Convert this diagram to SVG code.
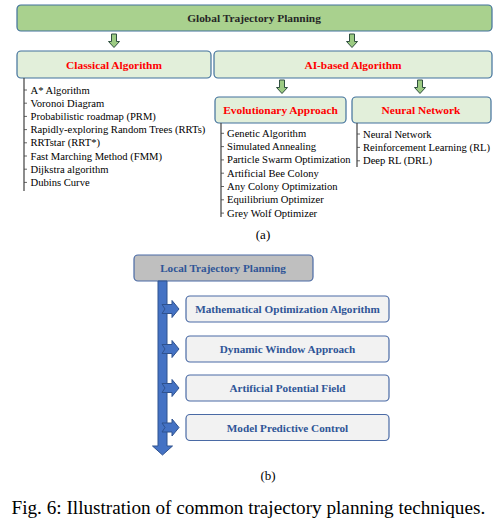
<svg xmlns="http://www.w3.org/2000/svg" width="502" height="529" viewBox="0 0 502 529">
<style>
.serif{font-family:"Liberation Serif","Times New Roman",serif}
.g{fill:#a9d18e;stroke:#41719c;stroke-width:1.2}
.sub{fill:#e2efda;stroke:#41719c;stroke-width:1.2}
.hd{font-family:"Liberation Serif",serif;font-weight:bold;font-size:11.4px;text-anchor:middle;dominant-baseline:central}
.red{fill:#ff0000}
.li{font-family:"Liberation Serif",serif;font-size:10.6px;fill:#000;dominant-baseline:central}
.vl{stroke:#404040;stroke-width:1.2;fill:none}
.tick{stroke:#404040;stroke-width:0.8}
.ga{fill:#9ccb82;stroke:#2f4f3f;stroke-width:1}
.lb{fill:#f2f2f2;stroke:#4a6aa5;stroke-width:1.2}
.bt{font-family:"Liberation Serif",serif;font-weight:bold;font-size:11.2px;fill:#2f5597;text-anchor:middle;dominant-baseline:central}
.ba{fill:#4472c4;stroke:#2f528f;stroke-width:1}
</style>

<g id="global">
<rect class="g" x="17" y="5" width="475" height="26" rx="4"/>
<text class="hd" x="254" y="18" fill="#262626">Global Trajectory Planning</text>
</g>

<g id="classical">
<rect class="sub" x="17" y="51" width="194" height="27" rx="4"/>
<text class="hd red" x="114" y="64.5">Classical Algorithm</text>
</g>

<g id="ai">
<rect class="sub" x="214" y="51" width="278" height="27" rx="4"/>
<text class="hd red" x="353" y="64.5">AI-based Algorithm</text>
</g>

<g id="evolutionary">
<rect class="sub" x="215" y="97" width="131" height="26" rx="4"/>
<text class="hd red" x="280.5" y="110">Evolutionary Approach</text>
</g>

<g id="neural">
<rect class="sub" x="352" y="97" width="139" height="26" rx="4"/>
<text class="hd red" x="421" y="110">Neural Network</text>
</g>

<g id="classical-list">
<path class="vl" d="M24 78V191"/>
<g class="tick">
<path d="M24 90h3M24 103.2h3M24 116.4h3M24 129.6h3M24 142.8h3M24 156h3M24 169.2h3M24 182.4h3"/>
</g>
<text class="li" x="30.5" y="90">A* Algorithm</text>
<text class="li" x="30.5" y="103.2">Voronoi Diagram</text>
<text class="li" x="30.5" y="116.4">Probabilistic roadmap (PRM)</text>
<text class="li" x="30.5" y="129.6">Rapidly-exploring Random Trees (RRTs)</text>
<text class="li" x="30.5" y="142.8">RRTstar (RRT*)</text>
<text class="li" x="30.5" y="156">Fast Marching Method (FMM)</text>
<text class="li" x="30.5" y="169.2">Dijkstra algorithm</text>
<text class="li" x="30.5" y="182.4">Dubins Curve</text>
</g>

<g id="evolutionary-list">
<path class="vl" d="M221 123V217"/>
<path class="tick" d="M221 133.3h3M221 146.6h3M221 159.9h3M221 173.2h3M221 186.5h3M221 199.8h3M221 213.1h3"/>
<text class="li" x="227" y="133.3">Genetic Algorithm</text>
<text class="li" x="227" y="146.6">Simulated Annealing</text>
<text class="li" x="227" y="159.9">Particle Swarm Optimization</text>
<text class="li" x="227" y="173.2">Artificial Bee Colony</text>
<text class="li" x="227" y="186.5">Any Colony Optimization</text>
<text class="li" x="227" y="199.8">Equilibrium Optimizer</text>
<text class="li" x="227" y="213.1">Grey Wolf Optimizer</text>
</g>

<g id="neural-list">
<path class="vl" d="M357 123V167"/>
<path class="tick" d="M357 134h3M357 147.4h3M357 160.8h3"/>
<text class="li" x="363" y="134">Neural Network</text>
<text class="li" x="363" y="147.4">Reinforcement Learning (RL)</text>
<text class="li" x="363" y="160.8">Deep RL (DRL)</text>
</g>

<text class="serif" x="263" y="234" font-size="13" text-anchor="middle" dominant-baseline="central">(a)</text>

<g id="local">
<rect x="134" y="255" width="179" height="26" rx="4" fill="#bfbfbf" stroke="#4a6aa5" stroke-width="1.2"/>
<text class="bt" x="223" y="268">Local Trajectory Planning</text>
</g>

<g id="math-opt">
<rect class="lb" x="186" y="296" width="203" height="26" rx="4"/>
<text class="bt" x="287.5" y="309">Mathematical Optimization Algorithm</text>
</g>
<g id="dwa">
<rect class="lb" x="186" y="336" width="203" height="26" rx="4"/>
<text class="bt" x="287.5" y="349">Dynamic Window Approach</text>
</g>
<g id="apf">
<rect class="lb" x="186" y="375" width="203" height="26" rx="4"/>
<text class="bt" x="287.5" y="388">Artificial Potential Field</text>
</g>
<g id="mpc">
<rect class="lb" x="186" y="414.5" width="203" height="26" rx="4"/>
<text class="bt" x="287.5" y="427.5">Model Predictive Control</text>
</g>

<g id="connectors">
<path class="ga" d="M111.5 34h5v7.5h3l-5.5 6-5.5-6h3z"/>
<path class="ga" d="M349.5 34h5v7.5h3l-5.5 6-5.5-6h3z"/>
<path class="ga" d="M279.5 80h5v7.5h3l-5.5 6-5.5-6h3z"/>
<path class="ga" d="M417.5 80h5v7.5h3l-5.5 6-5.5-6h3z"/>
<path class="ba" d="M158 281h9v165h5.5l-10 9-10-9h5.5z"/>
<path class="ba" d="M162 304.5h10v-4l7 8.5-7 8.5v-4h-10l3-4.5z"/>
<path class="ba" d="M162 344.5h10v-4l7 8.5-7 8.5v-4h-10l3-4.5z"/>
<path class="ba" d="M162 383.5h10v-4l7 8.5-7 8.5v-4h-10l3-4.5z"/>
<path class="ba" d="M162 423h10v-4l7 8.5-7 8.5v-4h-10l3-4.5z"/>
</g>

<text class="serif" x="268" y="475" font-size="13" text-anchor="middle" dominant-baseline="central">(b)</text>
<text class="serif" x="11.5" y="514" font-size="19.2">Fig. 6: Illustration of common trajectory planning techniques.</text>
</svg>
